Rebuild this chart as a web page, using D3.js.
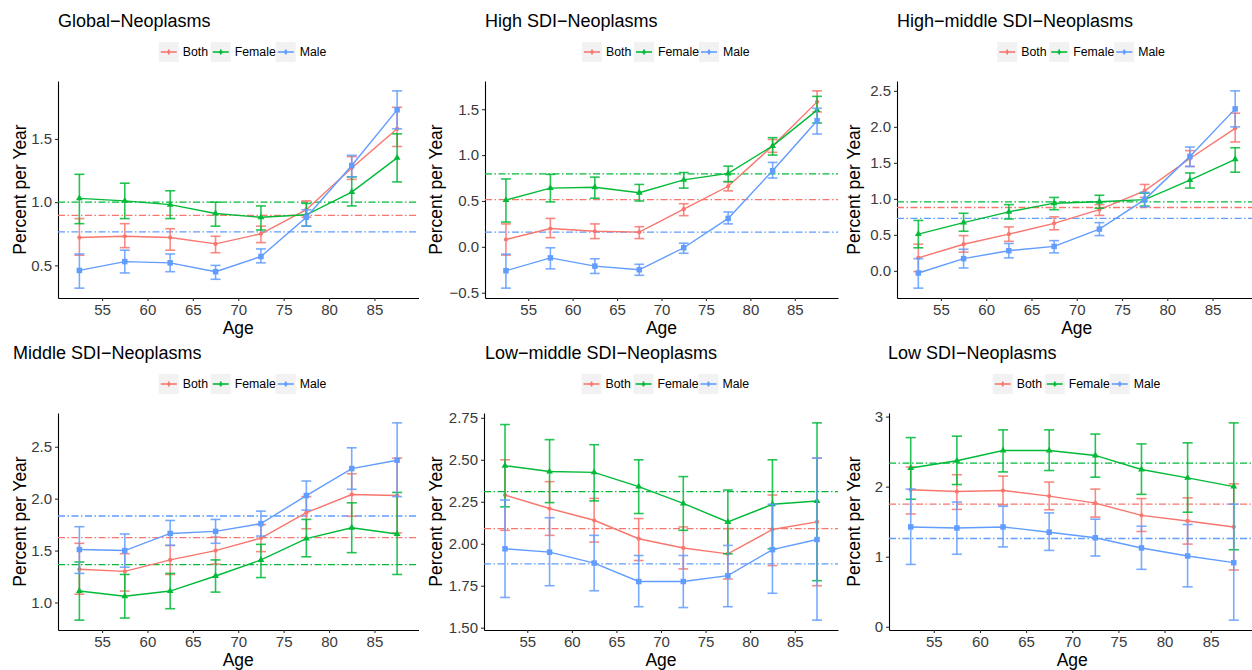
<!DOCTYPE html>
<html>
<head>
<meta charset="utf-8">
<title>Neoplasms - Percent per Year by Age</title>
<script src="https://d3js.org/d3.v7.min.js"></script>
<style>
  body { margin: 0; background: #fff; }
  text { font-family: 'Liberation Sans', Arial, Helvetica, sans-serif; }
</style>
</head>
<body>
<svg id="chart"></svg>
<script>
// Age groups (midpoints) and series
const ages = [52.5, 57.5, 62.5, 67.5, 72.5, 77.5, 82.5, 87.5];
const seriesNames = ['Both', 'Female', 'Male'];
const seriesColors = ['#F8766D', '#00BA38', '#619CFF'];
const xTicks = [55, 60, 65, 70, 75, 80, 85];

// Each row: [estimate, lower, upper]
const globalBoth   = [[0.72,0.58,0.87],[0.73,0.64,0.83],[0.72,0.62,0.79],[0.67,0.60,0.73],[0.75,0.68,0.81],[0.94,0.88,1.01],[1.27,1.18,1.36],[1.58,1.44,1.75]];
const globalFemale = [[1.03,0.83,1.22],[1.01,0.87,1.15],[0.98,0.87,1.09],[0.91,0.81,1.00],[0.88,0.78,0.97],[0.90,0.81,0.99],[1.08,0.97,1.20],[1.35,1.16,1.54]];
const globalMale   = [[0.46,0.32,0.59],[0.53,0.44,0.62],[0.52,0.45,0.59],[0.45,0.39,0.50],[0.57,0.52,0.63],[0.88,0.81,0.94],[1.29,1.20,1.37],[1.73,1.58,1.88]];
const globalAvg    = [0.895, 1.0, 0.765];
const globalTicks  = [0.5, 1.0, 1.5];

const highBoth   = [[0.08,-0.09,0.25],[0.20,0.10,0.31],[0.17,0.09,0.25],[0.16,0.09,0.22],[0.41,0.34,0.47],[0.66,0.61,0.71],[1.10,1.03,1.17],[1.58,1.47,1.70]];
const highFemale = [[0.51,0.27,0.74],[0.64,0.49,0.79],[0.65,0.53,0.76],[0.59,0.50,0.68],[0.73,0.64,0.81],[0.80,0.71,0.88],[1.10,1.00,1.19],[1.49,1.35,1.64]];
const highMale   = [[-0.26,-0.45,-0.08],[-0.12,-0.24,-0.01],[-0.21,-0.29,-0.13],[-0.25,-0.31,-0.19],[-0.01,-0.07,0.04],[0.31,0.25,0.38],[0.83,0.75,0.92],[1.375,1.23,1.51]];
const highAvg    = [0.515, 0.795, 0.16];
const highTicks  = [-0.5, 0.0, 0.5, 1.0, 1.5];

const highMidBoth   = [[0.18,-0.01,0.37],[0.37,0.26,0.49],[0.51,0.41,0.61],[0.66,0.57,0.75],[0.85,0.77,0.92],[1.11,1.02,1.20],[1.56,1.45,1.67],[1.98,1.79,2.19]];
const highMidFemale = [[0.51,0.32,0.70],[0.67,0.55,0.80],[0.82,0.72,0.92],[0.94,0.85,1.02],[0.96,0.87,1.05],[0.99,0.90,1.08],[1.26,1.15,1.36],[1.55,1.37,1.71]];
const highMidMale   = [[-0.03,-0.24,0.17],[0.17,0.04,0.30],[0.28,0.18,0.38],[0.34,0.25,0.42],[0.58,0.49,0.67],[0.99,0.89,1.09],[1.59,1.45,1.72],[2.25,2.00,2.50]];
const highMidAvg    = [0.88, 0.957, 0.73];
const highMidTicks  = [0.0, 0.5, 1.0, 1.5, 2.0, 2.5];

const middleBoth   = [[1.32,1.08,1.57],[1.30,1.11,1.47],[1.41,1.27,1.55],[1.50,1.37,1.63],[1.62,1.49,1.75],[1.865,1.71,2.02],[2.04,1.83,2.24],[2.03,1.67,2.39]];
const middleFemale = [[1.11,0.83,1.39],[1.06,0.85,1.27],[1.11,0.94,1.28],[1.255,1.10,1.41],[1.41,1.24,1.56],[1.615,1.44,1.80],[1.72,1.48,1.96],[1.66,1.27,2.06]];
const middleMale   = [[1.51,1.28,1.73],[1.50,1.34,1.66],[1.665,1.55,1.79],[1.685,1.57,1.80],[1.76,1.64,1.88],[2.03,1.89,2.17],[2.29,2.09,2.49],[2.37,2.02,2.73]];
const middleAvg    = [1.625, 1.364, 1.833];
const middleTicks  = [1.0, 1.5, 2.0, 2.5];

const lowMidBoth   = [[2.29,2.08,2.50],[2.21,2.05,2.37],[2.14,2.01,2.27],[2.03,1.90,2.15],[1.975,1.85,2.10],[1.94,1.79,2.09],[2.085,1.87,2.29],[2.13,1.75,2.51]];
const lowMidFemale = [[2.465,2.22,2.71],[2.43,2.245,2.62],[2.425,2.255,2.59],[2.34,2.18,2.50],[2.24,2.08,2.40],[2.13,1.94,2.32],[2.235,1.97,2.50],[2.255,1.78,2.72]];
const lowMidMale   = [[1.97,1.68,2.26],[1.95,1.75,2.155],[1.885,1.72,2.05],[1.775,1.625,1.93],[1.775,1.62,1.93],[1.81,1.625,1.99],[1.965,1.705,2.235],[2.025,1.545,2.51]];
const lowMidAvg    = [2.09, 2.31, 1.88];
const lowMidTicks  = [1.5, 1.75, 2.0, 2.25, 2.5, 2.75];

const lowBoth   = [[1.955,1.61,2.28],[1.93,1.675,2.17],[1.945,1.74,2.15],[1.865,1.67,2.065],[1.765,1.565,1.965],[1.59,1.36,1.83],[1.51,1.18,1.84],[1.425,0.81,2.04]];
const lowFemale = [[2.265,1.82,2.70],[2.37,2.03,2.72],[2.515,2.21,2.81],[2.515,2.23,2.81],[2.445,2.135,2.75],[2.245,1.89,2.61],[2.125,1.635,2.625],[2.00,1.10,2.91]];
const lowMale   = [[1.425,0.89,1.965],[1.41,1.035,1.78],[1.425,1.14,1.72],[1.35,1.09,1.625],[1.27,1.01,1.535],[1.125,0.82,1.435],[1.01,0.57,1.46],[0.915,0.095,1.75]];
const lowAvg    = [1.75, 2.335, 1.26];
const lowTicks  = [0, 1, 2, 3];

const panels = [
  { title: 'Global\u2212Neoplasms', data: [globalBoth, globalFemale, globalMale], avg: globalAvg, ticks: globalTicks, fmt: '.1f' },
  { title: 'High SDI\u2212Neoplasms', data: [highBoth, highFemale, highMale], avg: highAvg, ticks: highTicks, fmt: '.1f' },
  { title: 'High\u2212middle SDI\u2212Neoplasms', data: [highMidBoth, highMidFemale, highMidMale], avg: highMidAvg, ticks: highMidTicks, fmt: '.1f' },
  { title: 'Middle SDI\u2212Neoplasms', data: [middleBoth, middleFemale, middleMale], avg: middleAvg, ticks: middleTicks, fmt: '.1f' },
  { title: 'Low\u2212middle SDI\u2212Neoplasms', data: [lowMidBoth, lowMidFemale, lowMidMale], avg: lowMidAvg, ticks: lowMidTicks, fmt: '.2f' },
  { title: 'Low SDI\u2212Neoplasms', data: [lowBoth, lowFemale, lowMale], avg: lowAvg, ticks: lowTicks, fmt: 'd' }
];

// plot-area boxes for the 3x2 grid
const layout = [
  { left: 58,  right: 418.5,  top: 81,  bottom: 298, titleX: 58,  ylabX: 26 },
  { left: 485, right: 838,    top: 81,  bottom: 298, titleX: 485, ylabX: 442 },
  { left: 897, right: 1256.5, top: 81,  bottom: 298, titleX: 897, ylabX: 860 },
  { left: 58,  right: 418.5,  top: 413, bottom: 630, titleX: 13,  ylabX: 26 },
  { left: 484, right: 838,    top: 413, bottom: 630, titleX: 485, ylabX: 442 },
  { left: 889, right: 1255.5, top: 413, bottom: 630, titleX: 888, ylabX: 860 }
];

const width = 1252, height = 670;
const capWidth = 1.1; // errorbar width in years
const symbols = [d3.symbolCircle, d3.symbolTriangle, d3.symbolSquare];
const symbolSizes = [14, 20, 30];

const svg = d3.select('#chart').attr('width', width).attr('height', height);

// x domain like ggplot: data range incl. caps, 5% expansion
const xMin = d3.min(ages) - capWidth / 2, xMax = d3.max(ages) + capWidth / 2;
const xPad = (xMax - xMin) * 0.05;

panels.forEach((p, i) => {
  const L = layout[i];
  const g = svg.append('g');

  const x = d3.scaleLinear().domain([xMin - xPad, xMax + xPad]).range([L.left, L.right]);
  const all = p.data.flat();
  const lo = d3.min(all, d => d[1]), hi = d3.max(all, d => d[2]);
  const pad = (hi - lo) * 0.05;
  const y = d3.scaleLinear().domain([lo - pad, hi + pad]).range([L.bottom, L.top]);

  // title
  g.append('text')
    .attr('x', L.titleX).attr('y', L.top - 54)
    .attr('font-size', 18).attr('fill', '#000')
    .text(p.title);

  // legend
  const legW = 169;
  const lx = (L.left + L.right) / 2 + 5 - legW / 2;
  const ly = L.top - 29;
  const keyOffsets = [0, 52, 117];
  seriesNames.forEach((s, k) => {
    const kx = lx + keyOffsets[k];
    g.append('rect').attr('x', kx).attr('y', ly - 10).attr('width', 20).attr('height', 20).attr('fill', '#f2f2f2');
    g.append('line').attr('x1', kx + 2).attr('x2', kx + 18).attr('y1', ly).attr('y2', ly)
      .attr('stroke', seriesColors[k]).attr('stroke-width', 1.6);
    g.append('line').attr('x1', kx + 10).attr('x2', kx + 10).attr('y1', ly - 2.5).attr('y2', ly + 2.5)
      .attr('stroke', seriesColors[k]).attr('stroke-width', 1.6);
    g.append('path').attr('transform', `translate(${kx + 10},${ly})`)
      .attr('d', d3.symbol().type(symbols[k]).size(8)()).attr('fill', seriesColors[k]);
    g.append('text').attr('x', kx + 24).attr('y', ly).attr('dy', '0.35em')
      .attr('font-size', 12.3).attr('fill', '#000').text(s);
  });

  // axes
  const yAxis = g.append('g')
    .attr('transform', `translate(${L.left},0)`)
    .call(d3.axisLeft(y).tickValues(p.ticks).tickFormat(d3.format(p.fmt)).tickSize(3).tickSizeOuter(0).tickPadding(3));
  const xAxis = g.append('g')
    .attr('transform', `translate(0,${L.bottom})`)
    .call(d3.axisBottom(x).tickValues(xTicks).tickSize(3).tickSizeOuter(0).tickPadding(3));
  [xAxis, yAxis].forEach(a => {
    a.select('.domain').attr('stroke', '#000').attr('stroke-width', 1.1);
    a.selectAll('.tick line').attr('stroke', '#333').attr('stroke-width', 1.1);
    a.selectAll('.tick text').attr('font-size', 15).attr('fill', '#3a3a3a')
      .style('font-family', "'Liberation Sans', Arial, sans-serif");
  });

  // axis titles
  g.append('text')
    .attr('x', (L.left + L.right) / 2).attr('y', L.bottom + 36)
    .attr('text-anchor', 'middle').attr('font-size', 17.5).attr('fill', '#000')
    .text('Age');
  g.append('text')
    .attr('transform', `translate(${L.ylabX},${(L.top + L.bottom) / 2}) rotate(-90)`)
    .attr('text-anchor', 'middle').attr('font-size', 17.5).attr('fill', '#000')
    .text('Percent per Year');

  // average (dot-dash) reference lines
  g.selectAll('.avg')
    .data(p.avg)
    .enter().append('line')
    .attr('x1', L.left).attr('x2', L.right)
    .attr('y1', d => y(d)).attr('y2', d => y(d))
    .attr('stroke', (d, k) => seriesColors[k])
    .attr('stroke-width', 1.3)
    .attr('stroke-dasharray', '7,2.5,1.5,2.5');

  const line = d3.line().x((d, j) => x(ages[j])).y(d => y(d[0]));

  p.data.forEach((rows, k) => {
    const c = seriesColors[k];
    g.append('path').datum(rows)
      .attr('d', line).attr('fill', 'none')
      .attr('stroke', c).attr('stroke-width', 1.4);

    const eb = g.append('g').attr('stroke', c).attr('stroke-width', 1.6).attr('stroke-opacity', 0.85);
    rows.forEach((d, j) => {
      const cx = x(ages[j]);
      const hw = (x(ages[j] + capWidth / 2) - x(ages[j] - capWidth / 2)) / 2;
      eb.append('line').attr('x1', cx).attr('x2', cx).attr('y1', y(d[1])).attr('y2', y(d[2]));
      eb.append('line').attr('x1', cx - hw).attr('x2', cx + hw).attr('y1', y(d[1])).attr('y2', y(d[1]));
      eb.append('line').attr('x1', cx - hw).attr('x2', cx + hw).attr('y1', y(d[2])).attr('y2', y(d[2]));
    });

    g.selectAll(null).data(rows).enter().append('path')
      .attr('transform', (d, j) => `translate(${x(ages[j])},${y(d[0])})`)
      .attr('d', d3.symbol().type(symbols[k]).size(symbolSizes[k])())
      .attr('fill', c);
  });
});
</script>
</body>
</html>
